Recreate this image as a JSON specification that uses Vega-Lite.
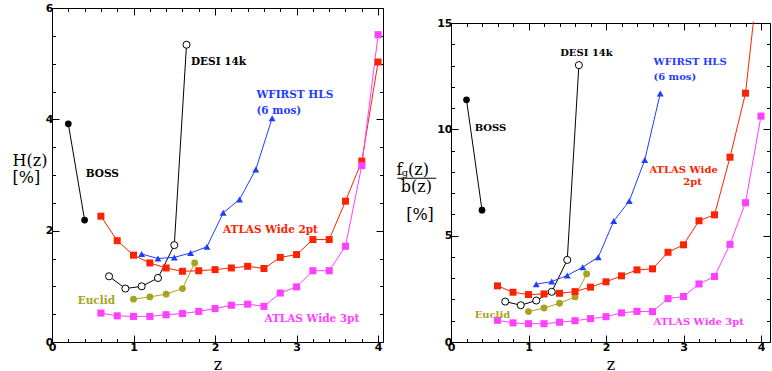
{
  "$schema": "https://vega.github.io/schema/vega-lite/v6.json",
  "autosize": {"type": "pad"},
  "padding": {"left": 12, "top": 2, "right": 0, "bottom": 0},
  "background": "white",
  "spacing": 68,
  "bounds": "flush",
  "config": {
    "view": {"stroke": null},
    "axis": {
      "grid": false, "domainColor": "black", "domainWidth": 1, "tickColor": "black", "tickWidth": 1,
      "labelColor": "black", "labelFont": "DejaVu Sans", "labelFontWeight": "bold", "labelFontSize": 11,
      "labelOverlap": false, "labelFlush": false,
      "titleColor": "black", "titleFont": "DejaVu Serif", "titleFontWeight": "normal", "titleFontSize": 16
    },
    "text": {"font": "DejaVu Serif", "fontWeight": "bold"}
  },
  "datasets": {
    "H": [
      {"s": "BOSS", "z": 0.2, "v": 3.92}, {"s": "BOSS", "z": 0.4, "v": 2.19},
      {"s": "DESI 14k", "z": 0.7, "v": 1.18}, {"s": "DESI 14k", "z": 0.9, "v": 0.96}, {"s": "DESI 14k", "z": 1.1, "v": 1.0}, {"s": "DESI 14k", "z": 1.3, "v": 1.15}, {"s": "DESI 14k", "z": 1.5, "v": 1.74}, {"s": "DESI 14k", "z": 1.65, "v": 5.34},
      {"s": "Euclid", "z": 1.0, "v": 0.77}, {"s": "Euclid", "z": 1.2, "v": 0.81}, {"s": "Euclid", "z": 1.4, "v": 0.86}, {"s": "Euclid", "z": 1.6, "v": 0.96}, {"s": "Euclid", "z": 1.75, "v": 1.42},
      {"s": "WFIRST HLS", "z": 1.1, "v": 1.58}, {"s": "WFIRST HLS", "z": 1.3, "v": 1.5}, {"s": "WFIRST HLS", "z": 1.5, "v": 1.52}, {"s": "WFIRST HLS", "z": 1.7, "v": 1.6}, {"s": "WFIRST HLS", "z": 1.9, "v": 1.71}, {"s": "WFIRST HLS", "z": 2.1, "v": 2.32}, {"s": "WFIRST HLS", "z": 2.3, "v": 2.56}, {"s": "WFIRST HLS", "z": 2.5, "v": 3.1}, {"s": "WFIRST HLS", "z": 2.7, "v": 4.02},
      {"s": "ATLAS Wide 2pt", "z": 0.6, "v": 2.26}, {"s": "ATLAS Wide 2pt", "z": 0.8, "v": 1.82}, {"s": "ATLAS Wide 2pt", "z": 1.0, "v": 1.56}, {"s": "ATLAS Wide 2pt", "z": 1.2, "v": 1.42}, {"s": "ATLAS Wide 2pt", "z": 1.4, "v": 1.33}, {"s": "ATLAS Wide 2pt", "z": 1.6, "v": 1.27}, {"s": "ATLAS Wide 2pt", "z": 1.8, "v": 1.28}, {"s": "ATLAS Wide 2pt", "z": 2.0, "v": 1.3}, {"s": "ATLAS Wide 2pt", "z": 2.2, "v": 1.33}, {"s": "ATLAS Wide 2pt", "z": 2.4, "v": 1.36}, {"s": "ATLAS Wide 2pt", "z": 2.6, "v": 1.32}, {"s": "ATLAS Wide 2pt", "z": 2.8, "v": 1.52}, {"s": "ATLAS Wide 2pt", "z": 3.0, "v": 1.57}, {"s": "ATLAS Wide 2pt", "z": 3.2, "v": 1.84}, {"s": "ATLAS Wide 2pt", "z": 3.4, "v": 1.84}, {"s": "ATLAS Wide 2pt", "z": 3.6, "v": 2.53}, {"s": "ATLAS Wide 2pt", "z": 3.8, "v": 3.25}, {"s": "ATLAS Wide 2pt", "z": 4.0, "v": 5.03},
      {"s": "ATLAS Wide 3pt", "z": 0.6, "v": 0.52}, {"s": "ATLAS Wide 3pt", "z": 0.8, "v": 0.47}, {"s": "ATLAS Wide 3pt", "z": 1.0, "v": 0.46}, {"s": "ATLAS Wide 3pt", "z": 1.2, "v": 0.46}, {"s": "ATLAS Wide 3pt", "z": 1.4, "v": 0.49}, {"s": "ATLAS Wide 3pt", "z": 1.6, "v": 0.51}, {"s": "ATLAS Wide 3pt", "z": 1.8, "v": 0.55}, {"s": "ATLAS Wide 3pt", "z": 2.0, "v": 0.6}, {"s": "ATLAS Wide 3pt", "z": 2.2, "v": 0.66}, {"s": "ATLAS Wide 3pt", "z": 2.4, "v": 0.68}, {"s": "ATLAS Wide 3pt", "z": 2.6, "v": 0.64}, {"s": "ATLAS Wide 3pt", "z": 2.8, "v": 0.88}, {"s": "ATLAS Wide 3pt", "z": 3.0, "v": 0.99}, {"s": "ATLAS Wide 3pt", "z": 3.2, "v": 1.28}, {"s": "ATLAS Wide 3pt", "z": 3.4, "v": 1.28}, {"s": "ATLAS Wide 3pt", "z": 3.6, "v": 1.72}, {"s": "ATLAS Wide 3pt", "z": 3.8, "v": 3.17}, {"s": "ATLAS Wide 3pt", "z": 4.0, "v": 5.52}
    ],
    "F": [
      {"s": "BOSS", "z": 0.2, "v": 11.39}, {"s": "BOSS", "z": 0.4, "v": 6.2},
      {"s": "DESI 14k", "z": 0.7, "v": 1.9}, {"s": "DESI 14k", "z": 0.9, "v": 1.73}, {"s": "DESI 14k", "z": 1.1, "v": 1.95}, {"s": "DESI 14k", "z": 1.3, "v": 2.36}, {"s": "DESI 14k", "z": 1.5, "v": 3.86}, {"s": "DESI 14k", "z": 1.65, "v": 13.02},
      {"s": "Euclid", "z": 1.0, "v": 1.43}, {"s": "Euclid", "z": 1.2, "v": 1.6}, {"s": "Euclid", "z": 1.4, "v": 1.82}, {"s": "Euclid", "z": 1.6, "v": 2.12}, {"s": "Euclid", "z": 1.75, "v": 3.2},
      {"s": "WFIRST HLS", "z": 1.1, "v": 2.72}, {"s": "WFIRST HLS", "z": 1.3, "v": 2.84}, {"s": "WFIRST HLS", "z": 1.5, "v": 3.13}, {"s": "WFIRST HLS", "z": 1.7, "v": 3.52}, {"s": "WFIRST HLS", "z": 1.9, "v": 3.99}, {"s": "WFIRST HLS", "z": 2.1, "v": 5.69}, {"s": "WFIRST HLS", "z": 2.3, "v": 6.63}, {"s": "WFIRST HLS", "z": 2.5, "v": 8.56}, {"s": "WFIRST HLS", "z": 2.7, "v": 11.69},
      {"s": "ATLAS Wide 2pt", "z": 0.6, "v": 2.64}, {"s": "ATLAS Wide 2pt", "z": 0.8, "v": 2.34}, {"s": "ATLAS Wide 2pt", "z": 1.0, "v": 2.23}, {"s": "ATLAS Wide 2pt", "z": 1.2, "v": 2.26}, {"s": "ATLAS Wide 2pt", "z": 1.4, "v": 2.29}, {"s": "ATLAS Wide 2pt", "z": 1.6, "v": 2.37}, {"s": "ATLAS Wide 2pt", "z": 1.8, "v": 2.58}, {"s": "ATLAS Wide 2pt", "z": 2.0, "v": 2.83}, {"s": "ATLAS Wide 2pt", "z": 2.2, "v": 3.11}, {"s": "ATLAS Wide 2pt", "z": 2.4, "v": 3.39}, {"s": "ATLAS Wide 2pt", "z": 2.6, "v": 3.44}, {"s": "ATLAS Wide 2pt", "z": 2.8, "v": 4.22}, {"s": "ATLAS Wide 2pt", "z": 3.0, "v": 4.57}, {"s": "ATLAS Wide 2pt", "z": 3.2, "v": 5.7}, {"s": "ATLAS Wide 2pt", "z": 3.4, "v": 5.98}, {"s": "ATLAS Wide 2pt", "z": 3.6, "v": 8.69}, {"s": "ATLAS Wide 2pt", "z": 3.8, "v": 11.7}, {"s": "ATLAS Wide 2pt", "z": 4.0, "v": 18.3},
      {"s": "ATLAS Wide 3pt", "z": 0.6, "v": 1.02}, {"s": "ATLAS Wide 3pt", "z": 0.8, "v": 0.9}, {"s": "ATLAS Wide 3pt", "z": 1.0, "v": 0.86}, {"s": "ATLAS Wide 3pt", "z": 1.2, "v": 0.86}, {"s": "ATLAS Wide 3pt", "z": 1.4, "v": 0.93}, {"s": "ATLAS Wide 3pt", "z": 1.6, "v": 1.0}, {"s": "ATLAS Wide 3pt", "z": 1.8, "v": 1.1}, {"s": "ATLAS Wide 3pt", "z": 2.0, "v": 1.19}, {"s": "ATLAS Wide 3pt", "z": 2.2, "v": 1.37}, {"s": "ATLAS Wide 3pt", "z": 2.4, "v": 1.44}, {"s": "ATLAS Wide 3pt", "z": 2.6, "v": 1.43}, {"s": "ATLAS Wide 3pt", "z": 2.8, "v": 2.04}, {"s": "ATLAS Wide 3pt", "z": 3.0, "v": 2.14}, {"s": "ATLAS Wide 3pt", "z": 3.2, "v": 2.73}, {"s": "ATLAS Wide 3pt", "z": 3.4, "v": 3.08}, {"s": "ATLAS Wide 3pt", "z": 3.6, "v": 4.59}, {"s": "ATLAS Wide 3pt", "z": 3.8, "v": 6.55}, {"s": "ATLAS Wide 3pt", "z": 4.0, "v": 10.62}
    ],
    "labH": [
      {"s": "DESI 14k", "z": 1.705, "v": 4.97, "t": "DESI 14k"},
      {"s": "WFIRST HLS", "z": 2.507, "v": 4.38, "t": "WFIRST HLS"},
      {"s": "WFIRST HLS", "z": 2.507, "v": 4.1, "t": "(6 mos)"},
      {"s": "BOSS", "z": 0.413, "v": 2.96, "t": "BOSS"},
      {"s": "ATLAS Wide 2pt", "z": 2.098, "v": 1.965, "t": "ATLAS Wide 2pt"},
      {"s": "Euclid", "z": 0.315, "v": 0.68, "t": "Euclid"},
      {"s": "ATLAS Wide 3pt", "z": 2.605, "v": 0.364, "t": "ATLAS Wide 3pt"}
    ],
    "labF": [
      {"s": "DESI 14k", "z": 1.409, "v": 13.46, "t": "DESI 14k"},
      {"s": "WFIRST HLS", "z": 2.612, "v": 13.03, "t": "WFIRST HLS"},
      {"s": "WFIRST HLS", "z": 2.612, "v": 12.3, "t": "(6 mos)"},
      {"s": "BOSS", "z": 0.305, "v": 9.92, "t": "BOSS"},
      {"s": "ATLAS Wide 2pt", "z": 2.56, "v": 7.95, "t": "ATLAS Wide"},
      {"s": "ATLAS Wide 2pt", "z": 2.998, "v": 7.4, "t": "2pt"},
      {"s": "Euclid", "z": 0.305, "v": 1.14, "t": "Euclid"},
      {"s": "ATLAS Wide 3pt", "z": 2.612, "v": 0.81, "t": "ATLAS Wide 3pt"}
    ],
    "ytF": [
      {"z": -0.665, "v": 7.85, "t": "f"},
      {"z": -0.42, "v": 7.85, "t": "(z)"},
      {"z": -0.447, "v": 7.05, "t": "b(z)"},
      {"z": -0.4, "v": 5.73, "t": "[%]"}
    ],
    "ytG": [
      {"z": -0.595, "v": 7.8, "t": "g"}
    ]
  },
  "hconcat": [
    {
      "width": 331,
      "height": 334,
      "data": {"name": "H"},
      "layer": [
        {
          "mark": {"type": "line"},
          "encoding": {
            "x": {"field": "z", "type": "quantitative", "scale": {"domain": [0, 4.06], "nice": false, "zero": false},
              "axis": {"orient": "bottom", "values": [0,0.2,0.4,0.6,0.8,1,1.2,1.4,1.6,1.8,2,2.2,2.4,2.6,2.8,3,3.2,3.4,3.6,3.8,4],
                "labelExpr": "datum.value % 1 === 0 ? format(datum.value, 'd') : ''",
                "tickSize": {"condition": {"test": "datum.value % 1 === 0", "value": -7}, "value": -3.5},
                "labelPadding": 6, "title": "z", "titlePadding": 1}},
            "y": {"field": "v", "type": "quantitative", "scale": {"domain": [0, 6], "nice": false, "zero": false},
              "axis": {"orient": "left", "values": [0,0.5,1,1.5,2,2.5,3,3.5,4,4.5,5,5.5,6],
                "labelExpr": "datum.value % 2 === 0 ? format(datum.value, 'd') : ''",
                "tickSize": {"condition": {"test": "datum.value % 2 === 0", "value": -7}, "value": -3.5},
                "labelPadding": 6,
                "title": ["H(z)", "[%]"], "titleAngle": 0, "titleAlign": "left", "titleBaseline": "alphabetic",
                "titleX": -40, "titleY": 157, "titleLineHeight": 17}},
            "color": {"field": "s", "type": "nominal", "legend": null,
              "scale": {"domain": ["BOSS", "DESI 14k", "Euclid", "WFIRST HLS", "ATLAS Wide 2pt", "ATLAS Wide 3pt"],
                "range": ["#000000", "#000000", "#aaa21e", "#1f3dff", "#ff2200", "#ff40ff"]}},
            "strokeWidth": {"field": "s", "type": "ordinal", "legend": null,
              "scale": {"domain": ["BOSS", "DESI 14k", "Euclid", "WFIRST HLS", "ATLAS Wide 2pt", "ATLAS Wide 3pt"],
                "range": [1, 1, 1.2, 1, 2.5, 2.5]}}
          }
        },
        {
          "transform": [{"filter": "datum.s !== 'DESI 14k'"}],
          "mark": {"type": "point", "filled": true, "opacity": 1},
          "encoding": {
            "x": {"field": "z", "type": "quantitative", "scale": {"domain": [0, 4.06], "nice": false, "zero": false},
              "axis": {"orient": "top", "values": [0,0.2,0.4,0.6,0.8,1,1.2,1.4,1.6,1.8,2,2.2,2.4,2.6,2.8,3,3.2,3.4,3.6,3.8,4],
                "labels": false, "title": null,
                "tickSize": {"condition": {"test": "datum.value % 1 === 0", "value": -7}, "value": -3.5}}},
            "y": {"field": "v", "type": "quantitative", "scale": {"domain": [0, 6], "nice": false, "zero": false},
              "axis": {"orient": "right", "values": [0,0.5,1,1.5,2,2.5,3,3.5,4,4.5,5,5.5,6],
                "labels": false, "title": null,
                "tickSize": {"condition": {"test": "datum.value % 2 === 0", "value": -7}, "value": -3.5}}},
            "color": {"field": "s", "type": "nominal", "legend": null},
            "shape": {"field": "s", "type": "nominal", "legend": null,
              "scale": {"domain": ["BOSS", "DESI 14k", "Euclid", "WFIRST HLS", "ATLAS Wide 2pt", "ATLAS Wide 3pt"],
                "range": ["circle", "circle", "circle", "triangle-up", "square", "square"]}},
            "size": {"field": "s", "type": "ordinal", "legend": null,
              "scale": {"domain": ["BOSS", "DESI 14k", "Euclid", "WFIRST HLS", "ATLAS Wide 2pt", "ATLAS Wide 3pt"],
                "range": [45, 50, 42, 30, 30, 30]}}
          }
        },
        {
          "transform": [{"filter": "datum.s === 'DESI 14k'"}],
          "mark": {"type": "point", "filled": false, "fill": "white", "opacity": 1, "strokeWidth": 1, "size": 50, "shape": "circle"},
          "encoding": {
            "x": {"field": "z", "type": "quantitative", "scale": {"domain": [0, 4.06], "nice": false, "zero": false}, "axis": null},
            "y": {"field": "v", "type": "quantitative", "scale": {"domain": [0, 6], "nice": false, "zero": false}, "axis": null},
            "color": {"field": "s", "type": "nominal", "legend": null}
          }
        },
        {
          "data": {"name": "labH"},
          "mark": {"type": "text", "align": "left", "baseline": "alphabetic", "fontSize": 10.5},
          "encoding": {
            "x": {"field": "z", "type": "quantitative", "scale": {"domain": [0, 4.06], "nice": false, "zero": false}, "axis": null},
            "y": {"field": "v", "type": "quantitative", "scale": {"domain": [0, 6], "nice": false, "zero": false}, "axis": null},
            "text": {"field": "t"},
            "color": {"field": "s", "type": "nominal", "legend": null}
          }
        }
      ],
      "resolve": {"axis": {"x": "independent", "y": "independent"}}
    },
    {
      "width": 319,
      "height": 334,
      "data": {"name": "F"},
      "layer": [
        {
          "mark": {"type": "line", "clip": true},
          "encoding": {
            "x": {"field": "z", "type": "quantitative", "scale": {"domain": [0, 4.116], "nice": false, "zero": false},
              "axis": {"orient": "bottom", "values": [0,0.2,0.4,0.6,0.8,1,1.2,1.4,1.6,1.8,2,2.2,2.4,2.6,2.8,3,3.2,3.4,3.6,3.8,4],
                "labelExpr": "datum.value % 1 === 0 ? format(datum.value, 'd') : ''",
                "tickSize": {"condition": {"test": "datum.value % 1 === 0", "value": -7}, "value": -3.5},
                "labelPadding": 6, "title": "z", "titlePadding": 1}},
            "y": {"field": "v", "type": "quantitative", "scale": {"domain": [0, 15], "range": [334, 15], "nice": false, "zero": false},
              "axis": {"orient": "left", "values": [0,1,2,3,4,5,6,7,8,9,10,11,12,13,14,15],
                "labelExpr": "datum.value % 5 === 0 ? format(datum.value, 'd') : ''",
                "tickSize": {"condition": {"test": "datum.value % 5 === 0", "value": -7}, "value": -3.5},
                "labelPadding": 6, "title": null}},
            "color": {"field": "s", "type": "nominal", "legend": null,
              "scale": {"domain": ["BOSS", "DESI 14k", "Euclid", "WFIRST HLS", "ATLAS Wide 2pt", "ATLAS Wide 3pt"],
                "range": ["#000000", "#000000", "#aaa21e", "#1f3dff", "#ff2200", "#ff40ff"]}},
            "strokeWidth": {"field": "s", "type": "ordinal", "legend": null,
              "scale": {"domain": ["BOSS", "DESI 14k", "Euclid", "WFIRST HLS", "ATLAS Wide 2pt", "ATLAS Wide 3pt"],
                "range": [1, 1, 1.2, 1, 2.5, 2.5]}}
          }
        },
        {
          "data": {"values": [{}]},
          "mark": {"type": "rect", "fill": "white", "clip": true},
          "encoding": {
            "x": {"datum": 3.3, "type": "quantitative", "scale": {"domain": [0, 4.116], "nice": false, "zero": false}, "axis": null},
            "x2": {"datum": 4.116},
            "y": {"datum": 15.06, "type": "quantitative", "scale": {"domain": [0, 15], "range": [334, 15], "nice": false, "zero": false}, "axis": null},
            "y2": {"datum": 17}
          }
        },
        {
          "transform": [{"filter": "datum.s !== 'DESI 14k' && datum.v < 15"}],
          "mark": {"type": "point", "filled": true, "opacity": 1},
          "encoding": {
            "x": {"field": "z", "type": "quantitative", "scale": {"domain": [0, 4.116], "nice": false, "zero": false},
              "axis": {"orient": "top", "offset": -15, "values": [0,0.2,0.4,0.6,0.8,1,1.2,1.4,1.6,1.8,2,2.2,2.4,2.6,2.8,3,3.2,3.4,3.6,3.8,4],
                "labels": false, "title": null,
                "tickSize": {"condition": {"test": "datum.value % 1 === 0", "value": -7}, "value": -3.5}}},
            "y": {"field": "v", "type": "quantitative", "scale": {"domain": [0, 15], "range": [334, 15], "nice": false, "zero": false},
              "axis": {"orient": "right", "values": [0,1,2,3,4,5,6,7,8,9,10,11,12,13,14,15],
                "labels": false, "title": null,
                "tickSize": {"condition": {"test": "datum.value % 5 === 0", "value": -7}, "value": -3.5}}},
            "color": {"field": "s", "type": "nominal", "legend": null},
            "shape": {"field": "s", "type": "nominal", "legend": null,
              "scale": {"domain": ["BOSS", "DESI 14k", "Euclid", "WFIRST HLS", "ATLAS Wide 2pt", "ATLAS Wide 3pt"],
                "range": ["circle", "circle", "circle", "triangle-up", "square", "square"]}},
            "size": {"field": "s", "type": "ordinal", "legend": null,
              "scale": {"domain": ["BOSS", "DESI 14k", "Euclid", "WFIRST HLS", "ATLAS Wide 2pt", "ATLAS Wide 3pt"],
                "range": [45, 50, 42, 30, 30, 30]}}
          }
        },
        {
          "transform": [{"filter": "datum.s === 'DESI 14k'"}],
          "mark": {"type": "point", "filled": false, "fill": "white", "opacity": 1, "strokeWidth": 1, "size": 50, "shape": "circle"},
          "encoding": {
            "x": {"field": "z", "type": "quantitative", "scale": {"domain": [0, 4.116], "nice": false, "zero": false}, "axis": null},
            "y": {"field": "v", "type": "quantitative", "scale": {"domain": [0, 15], "range": [334, 15], "nice": false, "zero": false}, "axis": null},
            "color": {"field": "s", "type": "nominal", "legend": null}
          }
        },
        {
          "data": {"name": "labF"},
          "mark": {"type": "text", "align": "left", "baseline": "alphabetic", "fontSize": 10},
          "encoding": {
            "x": {"field": "z", "type": "quantitative", "scale": {"domain": [0, 4.116], "nice": false, "zero": false}, "axis": null},
            "y": {"field": "v", "type": "quantitative", "scale": {"domain": [0, 15], "range": [334, 15], "nice": false, "zero": false}, "axis": null},
            "text": {"field": "t"},
            "color": {"field": "s", "type": "nominal", "legend": null}
          }
        },
        {
          "data": {"name": "ytF"},
          "mark": {"type": "text", "align": "center", "baseline": "alphabetic", "fontSize": 16, "fontWeight": "normal", "color": "black"},
          "encoding": {
            "x": {"field": "z", "type": "quantitative", "scale": {"domain": [0, 4.116], "nice": false, "zero": false}, "axis": null},
            "y": {"field": "v", "type": "quantitative", "scale": {"domain": [0, 15], "range": [334, 15], "nice": false, "zero": false}, "axis": null},
            "text": {"field": "t"}
          }
        },
        {
          "data": {"name": "ytG"},
          "mark": {"type": "text", "align": "center", "baseline": "alphabetic", "fontSize": 10, "fontWeight": "normal", "color": "black"},
          "encoding": {
            "x": {"field": "z", "type": "quantitative", "scale": {"domain": [0, 4.116], "nice": false, "zero": false}, "axis": null},
            "y": {"field": "v", "type": "quantitative", "scale": {"domain": [0, 15], "range": [334, 15], "nice": false, "zero": false}, "axis": null},
            "text": {"field": "t"}
          }
        },
        {
          "data": {"values": [{}]},
          "mark": {"type": "rule", "color": "black", "strokeWidth": 1},
          "encoding": {
            "x": {"datum": -0.692, "type": "quantitative", "scale": {"domain": [0, 4.116], "nice": false, "zero": false}, "axis": null},
            "x2": {"datum": -0.19},
            "y": {"datum": 7.7, "type": "quantitative", "scale": {"domain": [0, 15], "range": [334, 15], "nice": false, "zero": false}, "axis": null}
          }
        }
      ],
      "resolve": {"axis": {"x": "independent", "y": "independent"}}
    }
  ]
}
